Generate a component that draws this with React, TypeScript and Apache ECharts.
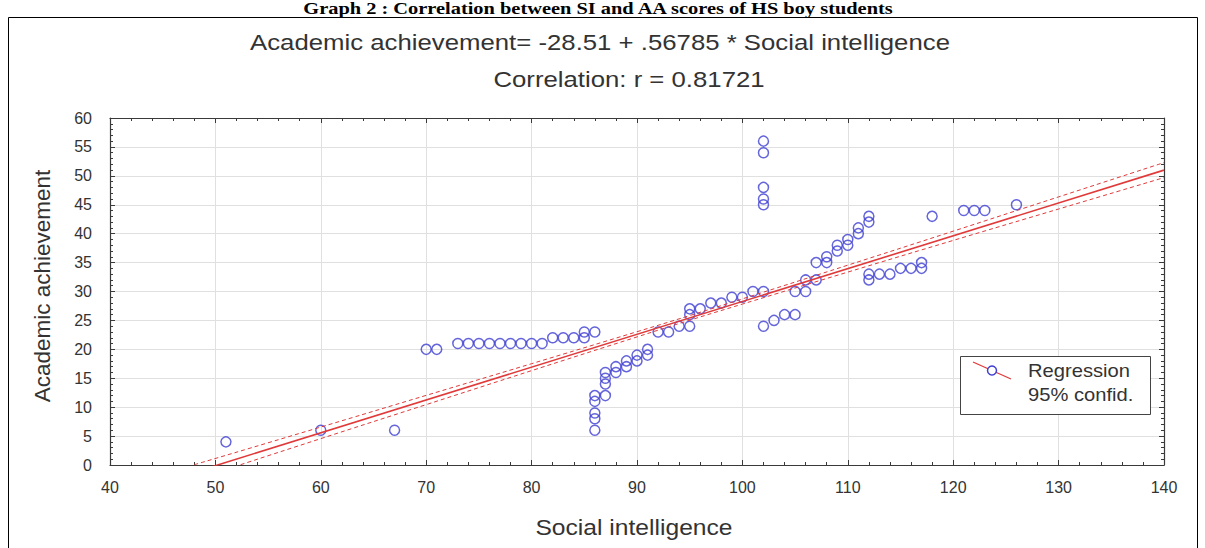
import React, { useEffect, useRef } from "react";
import * as echarts from "echarts";

// Scatter data (Social intelligence, Academic achievement)
const socialIntelligence = [
  51, 60, 67, 70, 71,
  73, 74, 75, 76, 77, 78, 79, 80, 81,
  82, 83, 84, 85, 85, 86,
  86, 86, 86, 86, 86,
  87, 87, 87, 87,
  88, 88, 89, 89, 90, 90, 91, 91,
  92, 93, 94, 95, 95, 95, 96, 97, 98, 99, 100, 101, 102,
  102, 103, 104, 105,
  102, 102, 102, 102, 102,
  105, 106, 106, 107,
  107, 108, 108, 109, 109, 110, 110, 111, 111, 112, 112,
  112, 112, 113, 114, 115, 116, 117, 117,
  118, 121, 122, 123, 126,
];
const academicAchievement = [
  4, 6, 6, 20, 20,
  21, 21, 21, 21, 21, 21, 21, 21, 21,
  22, 22, 22, 22, 23, 23,
  12, 11, 9, 8, 6,
  16, 15, 14, 12,
  17, 16, 18, 17, 19, 18, 20, 19,
  23, 23, 24, 24, 26, 27, 27, 28, 28, 29, 29, 30, 30,
  24, 25, 26, 26,
  56, 54, 48, 46, 45,
  30, 30, 32, 32,
  35, 36, 35, 38, 37, 38, 39, 40, 41, 42, 43,
  33, 32, 33, 33, 34, 34, 34, 35,
  43, 44, 44, 44, 45,
];

// Regression equation shown in the title
const intercept = -28.51;
const slope = 0.56785;
const regressionX = [48, 140];

// 95% confidence band half-widths
const bandX = [48, 60, 70, 80, 90, 95, 100, 110, 120, 130, 140];
const bandHalfWidth = [1.3, 1.0, 0.8, 0.6, 0.45, 0.4, 0.45, 0.6, 0.8, 1.05, 1.3];

const xRange = { min: 40, max: 140, interval: 10 };
const yRange = { min: 0, max: 60, interval: 5 };

const headerTitle = "Graph 2 : Correlation between SI and AA scores of HS boy students";
const equationTitle = "Academic achievement= -28.51 + .56785 * Social intelligence";
const correlationTitle = "Correlation: r = 0.81721";
const xName = "Social intelligence";
const yName = "Academic achievement";
const legendLabels = ["Regression", "95% confid."];

const FONT = "'Liberation Sans', Arial, sans-serif";
const TEXT = "#333";
const AXIS = "#3a3a3a";
const BLUE = "#3f3fd2";
const RED = "#e03a3a";
const STRETCH = 1.12;

export default function App() {
  const ref = useRef<HTMLDivElement>(null);

  useEffect(() => {
    if (!ref.current) return;
    const chart = echarts.init(ref.current, null, { renderer: "svg" });

    const points = socialIntelligence.map((x, i) => [x, academicAchievement[i]]);
    const regLine = regressionX.map((x) => [x, intercept + slope * x]);
    const upper = bandX.map((x, i) => [x, intercept + slope * x + bandHalfWidth[i]]);
    const lower = bandX.map((x, i) => [x, intercept + slope * x - bandHalfWidth[i]]);

    const baseX = {
      type: "value" as const,
      min: xRange.min,
      max: xRange.max,
      interval: xRange.interval,
      axisLine: { show: true, onZero: false, lineStyle: { color: AXIS, width: 1.2 } },
      axisTick: { show: true, inside: true, length: 5, lineStyle: { color: AXIS } },
      minorTick: { show: true, splitNumber: 5, length: 3, lineStyle: { color: AXIS } },
    };
    const baseY = {
      type: "value" as const,
      min: yRange.min,
      max: yRange.max,
      interval: yRange.interval,
      axisLine: { show: true, onZero: false, lineStyle: { color: AXIS, width: 1.2 } },
      axisTick: { show: true, inside: true, length: 5, lineStyle: { color: AXIS } },
      minorTick: { show: true, splitNumber: 5, length: 3, lineStyle: { color: AXIS } },
    };

    chart.setOption({
      animation: false,
      backgroundColor: "#ffffff",
      grid: { left: 110, right: 41, top: 118, bottom: 83 },
      xAxis: [
        {
          ...baseX,
          position: "bottom",
          axisLabel: { color: TEXT, fontSize: 16, fontFamily: FONT, margin: 14 },
          splitLine: { show: true, lineStyle: { color: "#e0e0e0", width: 1 } },
        },
        {
          ...baseX,
          position: "top",
          axisLabel: { show: false },
          splitLine: { show: false },
        },
      ],
      yAxis: [
        {
          ...baseY,
          position: "left",
          axisLabel: { color: TEXT, fontSize: 16, fontFamily: FONT, margin: 18 },
          splitLine: { show: true, lineStyle: { color: "#e0e0e0", width: 1 } },
        },
        {
          ...baseY,
          position: "right",
          axisLabel: { show: false },
          splitLine: { show: false },
        },
      ],
      series: [
        {
          type: "scatter",
          data: points,
          symbol: "circle",
          symbolSize: 10,
          itemStyle: { color: "rgba(255,255,255,0)", borderColor: BLUE, borderWidth: 1.5 },
          z: 3,
        },
        {
          type: "line",
          data: regLine,
          showSymbol: false,
          symbol: "none",
          clip: true,
          lineStyle: { color: RED, width: 1.6 },
          z: 4,
        },
        {
          type: "line",
          data: upper,
          smooth: true,
          symbol: "none",
          clip: true,
          lineStyle: { color: RED, width: 1, type: [4, 3] },
          z: 4,
        },
        {
          type: "line",
          data: lower,
          smooth: true,
          symbol: "none",
          clip: true,
          lineStyle: { color: RED, width: 1, type: [4, 3] },
          z: 4,
        },
      ],
      graphic: [
        {
          type: "text",
          x: 598,
          y: 0,
          scaleX: 1.2,
          z: 100,
          style: {
            text: headerTitle,
            font: "bold 17px 'Liberation Serif', 'Times New Roman', serif",
            fill: "#000",
            align: "center",
            verticalAlign: "top",
          },
        },
        {
          type: "rect",
          z: 100,
          shape: { x: 8.5, y: 17.5, width: 1189, height: 560 },
          style: { fill: "none", stroke: "#000", lineWidth: 1 },
        },
        {
          type: "text",
          x: 600,
          y: 42,
          scaleX: STRETCH,
          z: 100,
          style: {
            text: equationTitle,
            font: `23px ${FONT}`,
            fill: TEXT,
            align: "center",
            verticalAlign: "middle",
          },
        },
        {
          type: "text",
          x: 629,
          y: 79,
          scaleX: STRETCH,
          z: 100,
          style: {
            text: correlationTitle,
            font: `23px ${FONT}`,
            fill: TEXT,
            align: "center",
            verticalAlign: "middle",
          },
        },
        {
          type: "text",
          x: 634,
          y: 527,
          scaleX: STRETCH,
          z: 100,
          style: {
            text: xName,
            font: `22px ${FONT}`,
            fill: TEXT,
            align: "center",
            verticalAlign: "middle",
          },
        },
        {
          type: "text",
          x: 42,
          y: 286,
          rotation: Math.PI / 2,
          z: 100,
          style: {
            text: yName,
            font: `22.5px ${FONT}`,
            fill: TEXT,
            align: "center",
            verticalAlign: "middle",
          },
        },
        {
          type: "rect",
          z: 100,
          shape: { x: 960.5, y: 356.5, width: 190, height: 58 },
          style: { fill: "#fff", stroke: "#444", lineWidth: 1 },
        },
        {
          type: "line",
          z: 101,
          shape: { x1: 973, y1: 362, x2: 1011, y2: 379 },
          style: { stroke: RED, lineWidth: 1.3 },
        },
        {
          type: "circle",
          z: 102,
          shape: { cx: 992, cy: 370.5, r: 4.5 },
          style: { fill: "#fff", stroke: BLUE, lineWidth: 1.5 },
        },
        {
          type: "text",
          x: 1028,
          y: 371,
          scaleX: STRETCH,
          z: 101,
          style: {
            text: legendLabels[0],
            font: `18px ${FONT}`,
            fill: TEXT,
            align: "left",
            verticalAlign: "middle",
          },
        },
        {
          type: "text",
          x: 1028,
          y: 395,
          scaleX: STRETCH,
          z: 101,
          style: {
            text: legendLabels[1],
            font: `18px ${FONT}`,
            fill: TEXT,
            align: "left",
            verticalAlign: "middle",
          },
        },
      ],
    });

    return () => chart.dispose();
  }, []);

  return (
    <div
      ref={ref}
      style={{ position: "fixed", left: 0, top: 0, width: 1205, height: 548, background: "#fff" }}
    />
  );
}
